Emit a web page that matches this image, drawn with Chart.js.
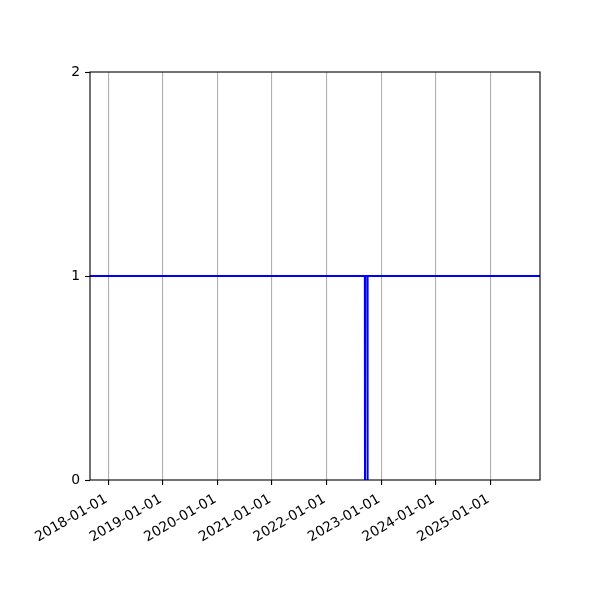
<!DOCTYPE html>
<html>
<head>
<meta charset="utf-8">
<script src="https://cdn.jsdelivr.net/npm/chart.js@4"></script>
<style>
  html, body { margin: 0; padding: 0; background: #ffffff; }
  #wrap { width: 600px; height: 600px; }
</style>
</head>
<body>
<div id="wrap"><canvas id="c" width="600" height="600"></canvas></div>
<script>
// ---- data ----
const dates = ['2017-06-01', '2022-09-14', '2022-09-15', '2022-09-16', '2022-10-01', '2022-10-02', '2022-10-03', '2026-03-01'];
const values = [1, 1, 0, 1, 1, 0, 1, 1];
const xTickLabels = ['2018-01-01', '2019-01-01', '2020-01-01', '2021-01-01', '2022-01-01', '2023-01-01', '2024-01-01', '2025-01-01'];
const yTickValues = [0, 1, 2];
const xRange = ['2017-09-01', '2025-11-29'];

const toMs = s => Date.parse(s + 'T00:00:00Z');
const points = dates.map((d, i) => ({ x: toMs(d), y: values[i] }));
const labelByMs = {};
xTickLabels.forEach(l => { labelByMs[toMs(l)] = l; });

const FONT = { family: 'DejaVu Sans', size: 13.9 };

const frame = {
  id: 'frame',
  afterDraw(chart) {
    const a = chart.chartArea, ctx = chart.ctx;
    ctx.save();
    ctx.strokeStyle = '#000';
    ctx.lineWidth = 1.1;
    ctx.strokeRect(a.left, a.top, a.right - a.left, a.bottom - a.top);
    ctx.restore();
  }
};

new Chart(document.getElementById('c'), {
  type: 'line',
  data: {
    datasets: [{
      data: points,
      borderColor: '#0000ff',
      borderWidth: 2,
      borderJoinStyle: 'round',
      pointRadius: 0,
      fill: false,
      tension: 0
    }]
  },
  options: {
    responsive: false,
    animation: false,
    devicePixelRatio: 1,
    layout: { padding: { top: 72, right: 60, left: 0, bottom: 0 } },
    plugins: { legend: { display: false }, tooltip: { enabled: false } },
    scales: {
      x: {
        type: 'linear',
        min: toMs(xRange[0]),
        max: toMs(xRange[1]),
        afterBuildTicks: s => { s.ticks = xTickLabels.map(l => ({ value: toMs(l) })); },
        afterFit: s => { s.height = 120; },
        grid: { display: true, color: '#b0b0b0', lineWidth: 1.1, tickColor: '#000', tickLength: 5, tickWidth: 1.1 },
        border: { display: false },
        ticks: {
          autoSkip: false,
          maxRotation: 30, minRotation: 30,
          padding: 6,
          labelOffset: -2,
          color: '#000',
          font: FONT,
          callback: v => labelByMs[v] || ''
        }
      },
      y: {
        type: 'linear',
        min: 0, max: 2,
        afterBuildTicks: s => { s.ticks = yTickValues.map(v => ({ value: v })); },
        afterFit: s => { s.width = 90; },
        grid: { display: true, drawOnChartArea: false, tickColor: '#000', tickLength: 5, tickWidth: 1.1 },
        border: { display: false },
        ticks: { padding: 5, color: '#000', font: FONT, callback: v => String(v) }
      }
    }
  },
  plugins: [frame]
});
</script>
</body>
</html>
